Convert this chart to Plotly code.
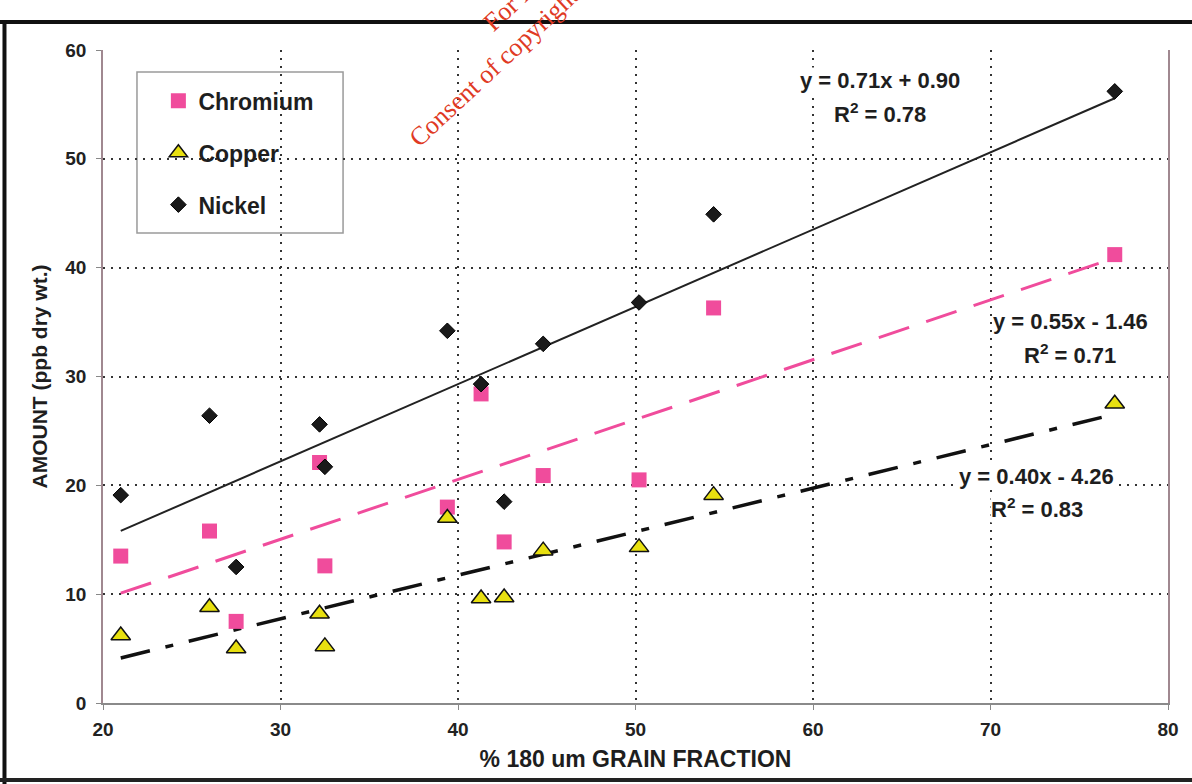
import plotly.graph_objects as go

# Sample grain fraction (% 180 um) and metal amounts (ppb dry wt.)
grain_pct = [21.0, 26.0, 27.5, 32.2, 32.5, 39.4, 41.3, 42.6, 44.8, 50.2, 54.4, 77.0]
chromium = [13.5, 15.8, 7.5, 22.1, 12.6, 18.0, 28.4, 14.8, 20.9, 20.5, 36.3, 41.2]
copper = [6.2, 8.8, 5.0, 8.2, 5.2, 17.0, 9.6, 9.7, 14.0, 14.3, 19.1, 27.5]
nickel = [19.1, 26.4, 12.5, 25.6, 21.7, 34.2, 29.3, 18.5, 33.0, 36.8, 44.9, 56.2]

# Linear fits: (slope, intercept, r squared)
fit_chromium = (0.55, -1.46, 0.71)
fit_copper = (0.40, -4.26, 0.83)
fit_nickel = (0.71, 0.90, 0.78)

x_ticks = [20, 30, 40, 50, 60, 70, 80]
y_ticks = [0, 10, 20, 30, 40, 50, 60]

PINK = "#F04C9C"
YELLOW = "#E8E010"
INK = "#1a1a1a"
FONT = "Liberation Sans, Arial, sans-serif"


def fit_line(fit):
    slope, intercept, _ = fit
    xs = [min(grain_pct), max(grain_pct)]
    return xs, [slope * x + intercept for x in xs]


def eq_text(fit):
    slope, intercept, _ = fit
    sign = "+" if intercept >= 0 else "-"
    return f"y = {slope:.2f}x {sign} {abs(intercept):.2f}"


fig = go.Figure()

# trend lines
for fit, color, dash, width in [
    (fit_nickel, "#222222", "solid", 2),
    (fit_chromium, PINK, "32px,18px", 3),
    (fit_copper, "#111111", "30px,16px,8px,16px", 3.5),
]:
    xs, ys = fit_line(fit)
    fig.add_trace(go.Scatter(x=xs, y=ys, mode="lines", showlegend=False,
                             hoverinfo="skip",
                             line=dict(color=color, width=width, dash=dash)))

# data points
fig.add_trace(go.Scatter(x=grain_pct, y=chromium, mode="markers", name="Chromium",
                         legendgroup="cr",
                         marker=dict(symbol="square", size=15, color=PINK,
                                     line=dict(width=0))))
fig.add_trace(go.Scatter(x=grain_pct, y=copper, mode="markers", name="Copper",
                         legendgroup="cu",
                         marker=dict(symbol="triangle-up", size=17, color=YELLOW,
                                     line=dict(width=1.5, color="#111111"))))
fig.add_trace(go.Scatter(x=grain_pct, y=nickel, mode="markers", name="Nickel",
                         legendgroup="ni",
                         marker=dict(symbol="diamond", size=12, color=INK,
                                     line=dict(width=1, color="#000000"))))

# fit equations
eq_font = dict(family=FONT, size=22, color="#1e1e1e", weight=700)
annots = []
for fit, (ex, ey), (rx, ry) in [
    (fit_nickel, (63.8, 57.2), (63.8, 54.2)),
    (fit_chromium, (74.5, 35.1), (74.5, 32.1)),
    (fit_copper, (72.6, 20.8), (72.6, 17.9)),
]:
    annots.append(dict(x=ex, y=ey, xref="x", yref="y", text=eq_text(fit),
                       showarrow=False, bgcolor="white", borderpad=0,
                       font=eq_font))
    annots.append(dict(x=rx, y=ry, xref="x", yref="y",
                       text=f"R<sup>2</sup> = {fit[2]:.2f}",
                       showarrow=False, bgcolor="white", borderpad=0,
                       font=eq_font))

# copyright stamp
annots.append(dict(x=0.477, y=1.177, xref="paper", yref="paper",
                   xanchor="center", yanchor="middle",
                   text="For inspection purposes only.<br>Consent of copyright owner required for any other use.",
                   showarrow=False, textangle=-43, align="center",
                   font=dict(family="Liberation Serif, Times New Roman, serif",
                             size=26, color="#e03a24")))

shapes = [
    # legend frame
    dict(type="rect", xref="paper", yref="paper", x0=0.0319, x1=0.2254,
         y0=0.7198, y1=0.9663, layer="between", fillcolor="white",
         line=dict(color="#9a9a9a", width=1.5)),
    # outer frame
    dict(type="line", xref="paper", yref="paper", x0=-0.1, x1=1.03,
         y0=1.0429, y1=1.0429, line=dict(color="#111111", width=4)),
    dict(type="line", xref="paper", yref="paper", x0=-0.0925, x1=-0.0925,
         y0=-0.13, y1=1.045, line=dict(color="#111111", width=4)),
    dict(type="line", xref="paper", yref="paper", x0=-0.1, x1=1.03,
         y0=-0.118, y1=-0.118, line=dict(color="#222222", width=4)),
]

grid = dict(showgrid=True, gridcolor="#333333", gridwidth=1.5, griddash="2px,6px")
tickfont = dict(family=FONT, size=19, color="#222222", weight=700)

fig.update_layout(
    width=1192, height=784,
    margin=dict(l=103, r=24, t=50, b=81),
    paper_bgcolor="white", plot_bgcolor="white",
    font=dict(family=FONT, color="#222222"),
    xaxis=dict(range=[20, 80], tickvals=x_ticks, ticks="outside", ticklen=5,
               tickcolor="#888888", showline=True, linecolor="#8a8a8a",
               linewidth=1.5, zeroline=False, tickfont=tickfont,
               ticklabelstandoff=3,
               title=dict(text="% 180 um GRAIN FRACTION", standoff=12,
                          font=dict(family=FONT, size=23, color="#1e1e1e", weight=700)),
               **grid),
    yaxis=dict(range=[0, 60], tickvals=y_ticks, ticks="outside", ticklen=5,
               tickcolor="#888888", showline=True, mirror=True,
               linecolor="#a08890", linewidth=1.5, zeroline=False,
               tickfont=tickfont, ticklabelstandoff=6,
               title=dict(text="AMOUNT (ppb dry wt.)", standoff=12,
                          font=dict(family=FONT, size=21, color="#1e1e1e", weight=700)),
               **grid),
    legend=dict(x=0.052, y=0.955, xanchor="left", yanchor="top",
                bgcolor="rgba(0,0,0,0)", borderwidth=0,
                traceorder="grouped", tracegroupgap=19,
                font=dict(family=FONT, size=23, color="#1e1e1e", weight=700)),
    annotations=annots,
    shapes=shapes,
    showlegend=True,
)

fig.write_html("out.html")
